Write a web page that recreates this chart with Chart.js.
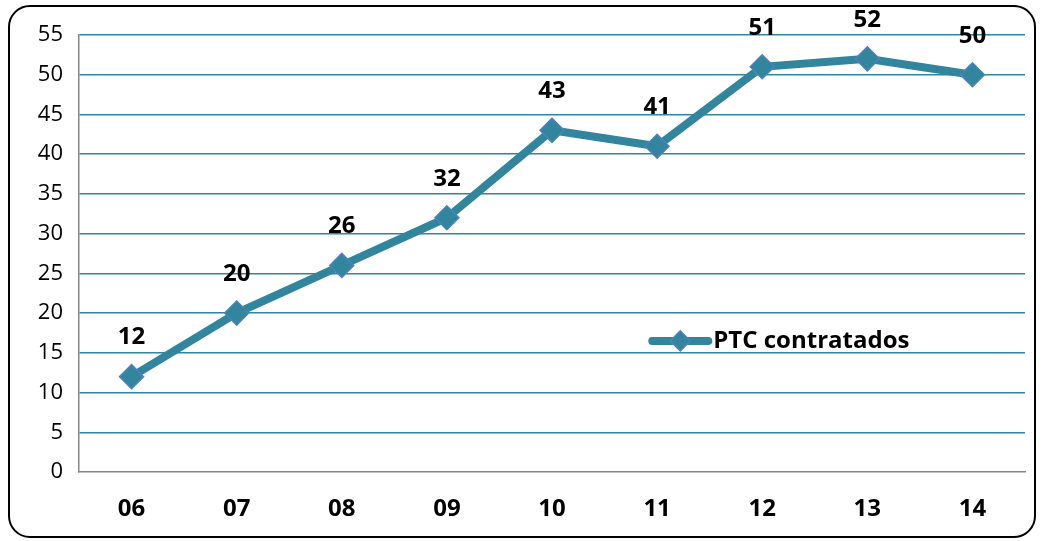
<!DOCTYPE html>
<html>
<head>
<meta charset="utf-8">
<script src="https://cdn.jsdelivr.net/npm/chart.js@4"></script>
<style>
    html, body { margin: 0; padding: 0; background: #ffffff; }
    #wrap { position: relative; width: 1042px; height: 541px; }
    #marco {
        position: absolute; left: 8px; top: 5px; width: 1024px; height: 529px;
        border: 2px solid #000; border-radius: 22px; pointer-events: none;
    }
    canvas { position: absolute; left: 0; top: 0; }
</style>
</head>
<body>
<div id="wrap">
    <canvas id="ptcChart" width="1042" height="541"></canvas>
    <div id="marco"></div>
</div>
<script>
// Datos del gráfico
const anios = ['06', '07', '08', '09', '10', '11', '12', '13', '14'];
const ptcContratados = [12, 20, 26, 32, 43, 41, 51, 52, 50];
const serieNombre = 'PTC contratados';
const yTicks = [0, 5, 10, 15, 20, 25, 30, 35, 40, 45, 50, 55];

const colorLinea = '#31859C';
const colorBordePunto = '#4F81BD';
const fuente = '"Open Sans", Lato, sans-serif';

// Etiquetas de valor encima de cada punto
const etiquetasPlugin = {
    id: 'etiquetas',
    afterDatasetsDraw(chart) {
        const ctx = chart.ctx;
        const meta = chart.getDatasetMeta(0);
        ctx.save();
        ctx.font = 'bold 24px ' + fuente;
        ctx.fillStyle = '#000';
        ctx.textAlign = 'center';
        ctx.textBaseline = 'middle';
        meta.data.forEach((pt, i) => {
            ctx.fillText(String(chart.data.datasets[0].data[i]), pt.x, pt.y - 39);
        });
        ctx.restore();
    }
};

// Leyenda dentro del área del gráfico
const leyendaPlugin = {
    id: 'leyendaInterna',
    afterDraw(chart) {
        const ctx = chart.ctx;
        const area = chart.chartArea;
        const x0 = area.left + (area.right - area.left) * 0.606;
        const y0 = chart.scales.y.getPixelForValue(16.5);
        ctx.save();
        ctx.strokeStyle = colorLinea;
        ctx.lineWidth = 8;
        ctx.lineCap = 'round';
        ctx.beginPath();
        ctx.moveTo(x0, y0);
        ctx.lineTo(x0 + 56, y0);
        ctx.stroke();
        // rombo
        ctx.fillStyle = colorLinea;
        ctx.strokeStyle = colorBordePunto;
        ctx.lineWidth = 1.5;
        ctx.beginPath();
        const cx = x0 + 28, r = 10;
        ctx.moveTo(cx, y0 - r);
        ctx.lineTo(cx + r, y0);
        ctx.lineTo(cx, y0 + r);
        ctx.lineTo(cx - r, y0);
        ctx.closePath();
        ctx.fill();
        ctx.stroke();
        ctx.font = 'bold 24px ' + fuente;
        ctx.fillStyle = '#000';
        ctx.textAlign = 'left';
        ctx.textBaseline = 'middle';
        ctx.fillText(chart.data.datasets[0].label, x0 + 61, y0);
        ctx.restore();
    }
};

new Chart(document.getElementById('ptcChart'), {
    type: 'line',
    data: {
        labels: anios,
        datasets: [{
            label: serieNombre,
            data: ptcContratados,
            borderColor: colorLinea,
            borderWidth: 8,
            tension: 0,
            fill: false,
            pointStyle: 'rectRot',
            pointRadius: 12,
            pointBackgroundColor: colorLinea,
            pointBorderColor: colorBordePunto,
            pointBorderWidth: 1.5
        }]
    },
    options: {
        responsive: false,
        animation: false,
        layout: { padding: { left: 0, right: 17, top: 35, bottom: 0 } },
        plugins: {
            legend: { display: false },
            tooltip: { enabled: false }
        },
        scales: {
            y: {
                min: 0,
                max: 55,
                afterBuildTicks: function (scale) {
                    scale.ticks = yTicks.map(v => ({ value: v }));
                },
                afterFit: function (scale) { scale.width = 79; },
                grid: {
                    color: ctx => ctx.tick && ctx.tick.value === 0 ? 'rgba(0,0,0,0)' : colorLinea,
                    lineWidth: 1.5,
                    drawTicks: false
                },
                border: { color: '#868686', width: 1.5 },
                ticks: {
                    padding: 16,
                    color: '#000',
                    font: { family: fuente, size: 22 }
                }
            },
            x: {
                offset: true,
                afterFit: function (scale) { scale.height = 69; },
                grid: { display: false, drawTicks: false },
                border: { color: '#868686', width: 1.5 },
                ticks: {
                    padding: 23,
                    color: '#000',
                    font: { family: fuente, size: 24, weight: 'bold' }
                }
            }
        }
    },
    plugins: [etiquetasPlugin, leyendaPlugin]
});
</script>
</body>
</html>
